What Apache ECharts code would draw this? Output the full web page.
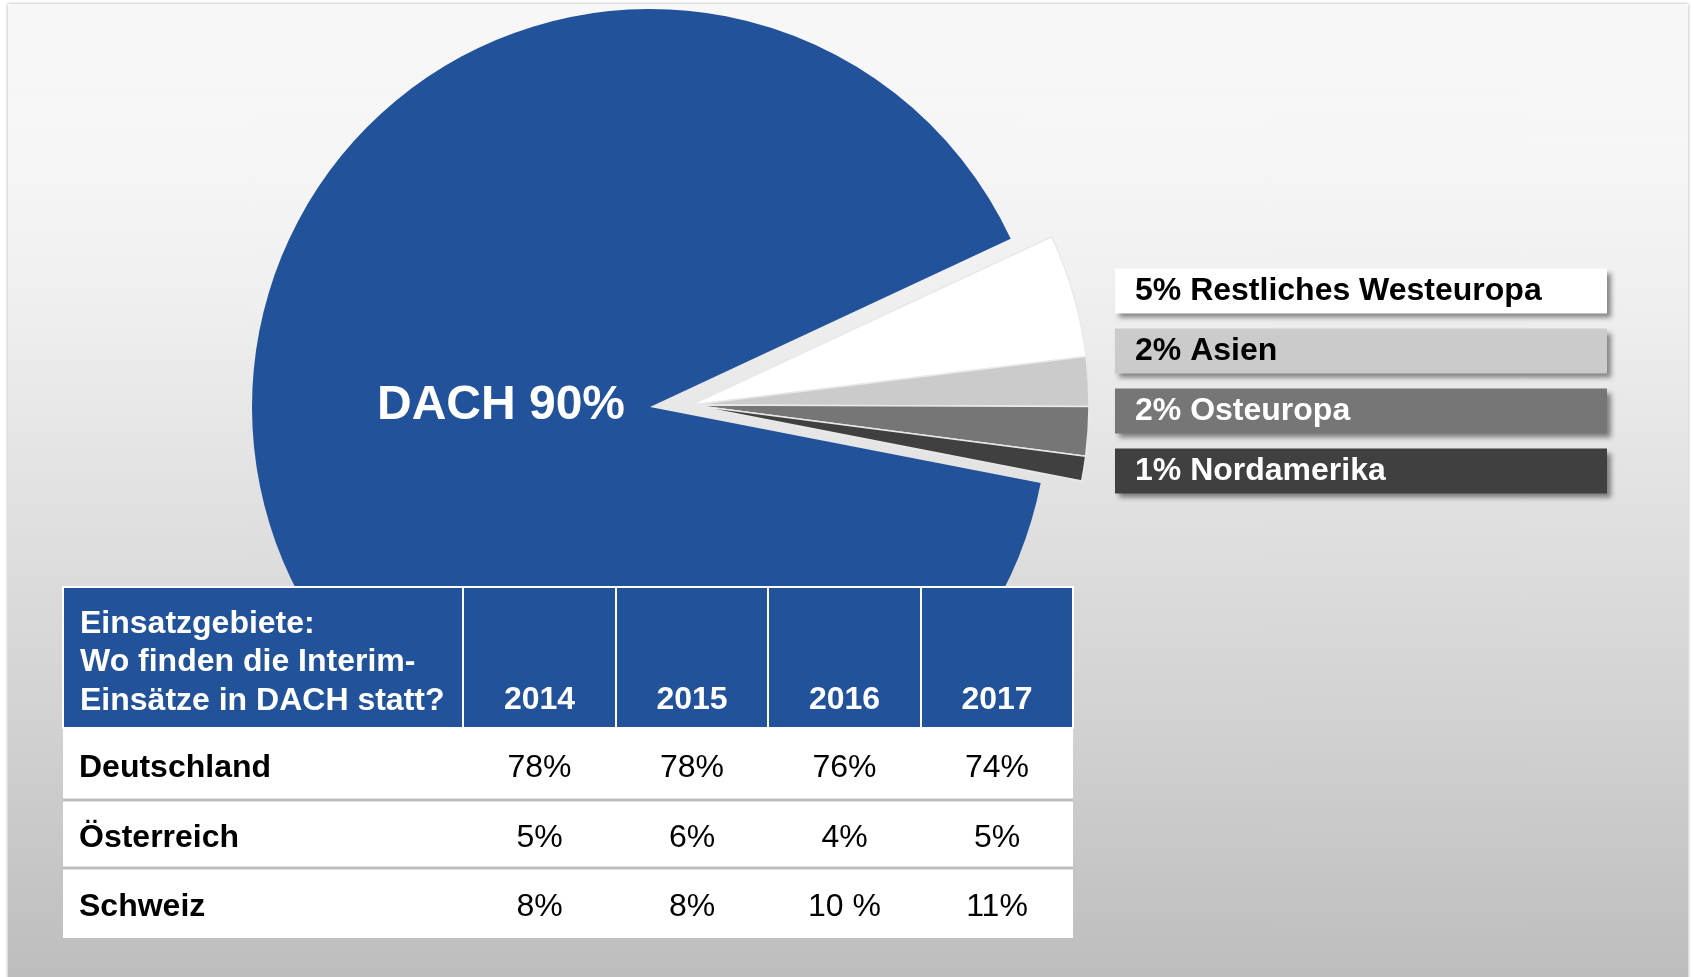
<!DOCTYPE html>
<html>
<head>
<meta charset="utf-8">
<script src="https://cdn.jsdelivr.net/npm/echarts@6.0.0/dist/echarts.min.js"></script>
<style>
  html, body { margin: 0; padding: 0; background: #ffffff; overflow: hidden; }
  #panel {
    position: absolute; left: 8px; top: 4px; width: 1680px; height: 990px;
    background: linear-gradient(to bottom, #f7f7f7 0%, #f6f6f6 15%, #efefef 30%, #d2d2d2 72%, #bcbcbc 100%);
    box-shadow: 0 0 3px rgba(0, 0, 0, 0.35);
  }
  #main { position: absolute; left: 0; top: 0; width: 1694px; height: 977px; }
</style>
</head>
<body>
<div id="panel"></div>
<div id="main"></div>
<script>
// Kreisdiagramm: Einsatzgebiete
var regions = ["DACH", "Restliches Westeuropa", "Asien", "Osteuropa", "Nordamerika"];
var shares = [90, 5, 2, 2, 1];
var sliceColors = ["#22539a", "#ffffff", "#cbcbcb", "#767676", "#404040"];
var labelColors = ["#ffffff", "#000000", "#000000", "#ffffff", "#ffffff"];

// Tabelle: Einsätze innerhalb DACH
var headerTitle = ["Einsatzgebiete:", "Wo finden die Interim-", "Einsätze in DACH statt?"];
var years = ["2014", "2015", "2016", "2017"];
var countries = ["Deutschland", "Österreich", "Schweiz"];
var deutschland = ["78%", "78%", "76%", "74%"];
var oesterreich = ["5%", "6%", "4%", "5%"];
var schweiz = ["8%", "8%", "10 %", "11%"];
var tableRows = [deutschland, oesterreich, schweiz];

var FONT = '"Liberation Sans", Arial, Helvetica, sans-serif';
var BLUE = "#22539a";

var myChart = echarts.init(document.getElementById("main"));

// DACH-Stück (die kleinen Stücke bleiben hier unsichtbar)
var dachData = regions.map(function (name, i) {
  if (i === 0) {
    return { name: name, value: shares[i], itemStyle: { color: sliceColors[i] }, label: { show: true } };
  }
  return { name: name, value: shares[i], itemStyle: { color: "rgba(0,0,0,0)", borderWidth: 0 }, label: { show: false } };
});

// herausgezogene kleine Stücke
var restData = regions.map(function (name, i) {
  if (i === 0) {
    return { name: name, value: shares[i], itemStyle: { color: "rgba(0,0,0,0)", borderWidth: 0 }, label: { show: false } };
  }
  return {
    name: name,
    value: shares[i],
    itemStyle: { color: sliceColors[i] },
    label: { show: true, color: labelColors[i], backgroundColor: sliceColors[i] },
  };
});

// Tabelle als Grafik-Elemente
var colEdges = [63, 463, 616, 768, 921, 1073];
var headTop = 587, headBottom = 728;
var rowEdges = [728, 800, 868, 938];
var table = [];

table.push({
  type: "rect", z: 10,
  shape: { x: colEdges[0] - 1, y: headTop - 1, width: colEdges[5] - colEdges[0] + 2, height: headBottom - headTop + 2 },
  style: { fill: "#ffffff" },
});
for (var c = 0; c < 5; c++) {
  table.push({
    type: "rect", z: 11,
    shape: { x: colEdges[c] + 1, y: headTop + 1, width: colEdges[c + 1] - colEdges[c] - 2, height: headBottom - headTop - 2 },
    style: { fill: BLUE },
  });
}
table.push({
  type: "rect", z: 10,
  shape: { x: colEdges[0], y: rowEdges[0], width: colEdges[5] - colEdges[0], height: rowEdges[3] - rowEdges[0] },
  style: { fill: "#ffffff" },
});
for (var r = 1; r < 3; r++) {
  table.push({
    type: "rect", z: 11,
    shape: { x: colEdges[0], y: rowEdges[r] - 1.5, width: colEdges[5] - colEdges[0], height: 3 },
    style: { fill: "#bdbdbd" },
  });
}
headerTitle.forEach(function (line, i) {
  table.push({
    type: "text", z: 12,
    style: {
      text: line, x: 80, y: 624 + i * 38.5, fill: "#ffffff",
      font: "bold 32px " + FONT, align: "left", verticalAlign: "middle",
      textAlign: "left", textVerticalAlign: "middle",
    },
  });
});
years.forEach(function (year, i) {
  table.push({
    type: "text", z: 12,
    style: {
      text: year, x: (colEdges[i + 1] + colEdges[i + 2]) / 2, y: 700, fill: "#ffffff",
      font: "bold 32px " + FONT, align: "center", verticalAlign: "middle",
      textAlign: "center", textVerticalAlign: "middle",
    },
  });
});
countries.forEach(function (country, r) {
  var cy = (rowEdges[r] + rowEdges[r + 1]) / 2 + 4;
  table.push({
    type: "text", z: 12,
    style: {
      text: country, x: 79, y: cy, fill: "#000000",
      font: "bold 32px " + FONT, align: "left", verticalAlign: "middle",
      textAlign: "left", textVerticalAlign: "middle",
    },
  });
  tableRows[r].forEach(function (val, i) {
    table.push({
      type: "text", z: 12,
      style: {
        text: val, x: (colEdges[i + 1] + colEdges[i + 2]) / 2, y: cy, fill: "#000000",
        font: "32px " + FONT, align: "center", verticalAlign: "middle",
        textAlign: "center", textVerticalAlign: "middle",
      },
    });
  });
});

myChart.setOption({
  animation: false,
  graphic: { elements: table },
  series: [
    {
      name: "DACH",
      type: "pie",
      center: [650, 407],
      radius: 398,
      startAngle: 349,
      clockwise: true,
      silent: true,
      emphasis: { disabled: true },
      avoidLabelOverlap: false,
      label: {
        position: "inside",
        formatter: "{b} {c}%",
        color: "#ffffff",
        fontSize: 48,
        fontWeight: "bold",
        fontFamily: FONT,
      },
      labelLine: { show: false },
      labelLayout: function () {
        return { x: 501, y: 406, align: "center", verticalAlign: "middle" };
      },
      data: dachData,
    },
    {
      name: "Rest",
      type: "pie",
      center: [691, 405],
      radius: 398,
      startAngle: 349,
      clockwise: true,
      silent: true,
      emphasis: { disabled: true },
      avoidLabelOverlap: false,
      itemStyle: { borderColor: "#e9e9e9", borderWidth: 1.5 },
      label: {
        position: "outside",
        formatter: "{c}% {b}",
        fontSize: 32,
        fontWeight: "bold",
        fontFamily: FONT,
        width: 472,
        height: 45,
        lineHeight: 45,
        padding: [0, 0, 0, 20],
        shadowColor: "rgba(0,0,0,0.45)",
        shadowBlur: 5,
        shadowOffsetX: 4,
        shadowOffsetY: 4,
      },
      labelLine: { show: false },
      labelLayout: function (params) {
        return { x: 1115, y: 291 + (params.dataIndex - 1) * 60, align: "left", verticalAlign: "middle" };
      },
      data: restData,
    },
  ],
});
</script>
</body>
</html>
